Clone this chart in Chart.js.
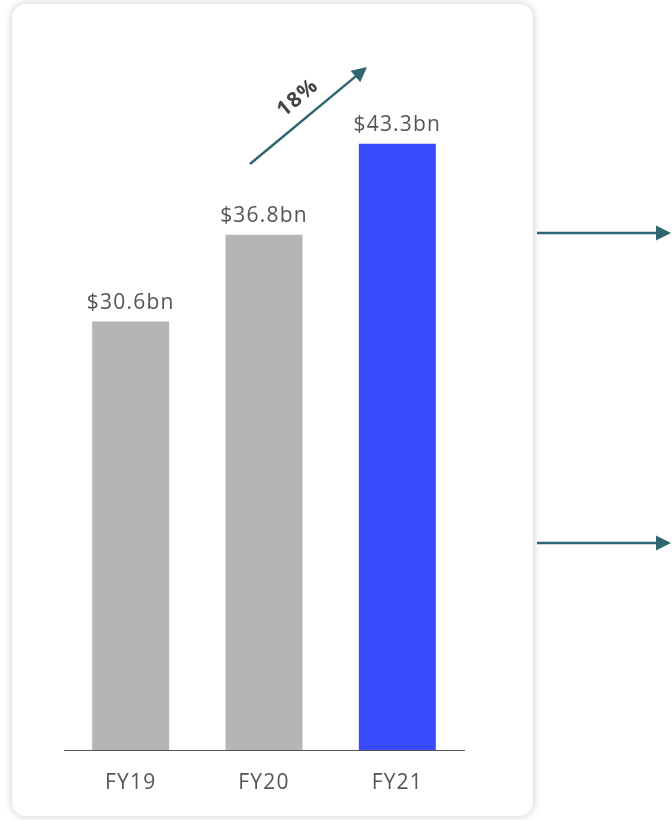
<!DOCTYPE html>
<html>
<head>
<meta charset="utf-8">
<script src="https://cdn.jsdelivr.net/npm/chart.js@4"></script>
<style>
  html, body { margin: 0; padding: 0; background: #fff; }
  body { width: 672px; height: 820px; position: relative; overflow: hidden; }
  .card {
    position: absolute; left: 12px; top: 4px; width: 521px; height: 812px;
    background: #fff; border-radius: 14px;
    box-shadow: 0 0 9px rgba(0, 0, 0, 0.22);
  }
  #wrap { position: absolute; left: 0; top: 0; width: 672px; height: 820px; }
</style>
</head>
<body>
<div class="card"></div>
<div id="wrap"><canvas id="revenueChart"></canvas></div>
<script>
const years = ['FY19', 'FY20', 'FY21'];
const revenue = [30.6, 36.8, 43.3];
const valueLabels = ['$30.6bn', '$36.8bn', '$43.3bn'];
const growthLabel = '18%';

const FONT = '"Open Sans", "Lato", sans-serif';
const TEXT = '#555';
const TEAL = '#2f6670';

function arrow(ctx, x1, y1, x2, y2, head) {
    const ang = Math.atan2(y2 - y1, x2 - x1);
    ctx.beginPath();
    ctx.moveTo(x1, y1);
    ctx.lineTo(x2 - Math.cos(ang) * head * 0.8, y2 - Math.sin(ang) * head * 0.8);
    ctx.stroke();
    ctx.save();
    ctx.translate(x2, y2);
    ctx.rotate(ang);
    ctx.beginPath();
    ctx.moveTo(0, 0);
    ctx.lineTo(-head, -head * 0.5);
    ctx.lineTo(-head, head * 0.5);
    ctx.closePath();
    ctx.fill();
    ctx.restore();
}

// wider letters, closer to the geometric font of the original
const spacing = {
    id: 'spacing',
    beforeDraw(chart) { chart.ctx.letterSpacing = '1.2px'; }
};

const decorations = {
    id: 'decorations',
    afterDatasetsDraw(chart) {
        const ctx = chart.ctx;
        const meta = chart.getDatasetMeta(0);
        ctx.save();
        ctx.fillStyle = TEXT;
        ctx.font = '21px ' + FONT;
        ctx.textAlign = 'center';
        ctx.textBaseline = 'bottom';
        meta.data.forEach((bar, i) => {
            ctx.fillText(valueLabels[i], bar.x, bar.y - 8);
        });

        ctx.strokeStyle = TEAL;
        ctx.fillStyle = TEAL;
        ctx.lineWidth = 2.5;
        arrow(ctx, 250, 164, 367, 67, 15);
        arrow(ctx, 537, 233, 671, 233, 15);
        arrow(ctx, 537, 543, 671, 543, 15);

        ctx.save();
        ctx.translate(298, 98);
        ctx.rotate(-40 * Math.PI / 180);
        ctx.fillStyle = '#444';
        ctx.font = 'bold 21px ' + FONT;
        ctx.textAlign = 'center';
        ctx.textBaseline = 'middle';
        ctx.fillText(growthLabel, 0, 0);
        ctx.restore();
        ctx.restore();
    }
};

new Chart(document.getElementById('revenueChart'), {
    type: 'bar',
    data: {
        labels: years,
        datasets: [{
            data: revenue,
            backgroundColor: ['#b5b5b5', '#b5b5b5', '#3a4bfc'],
            barPercentage: 0.77,
            categoryPercentage: 0.75
        }]
    },
    options: {
        responsive: true,
        maintainAspectRatio: false,
        animation: false,
        layout: { padding: { left: 64, right: 208, top: 50, bottom: 0 } },
        plugins: { legend: { display: false }, tooltip: { enabled: false } },
        scales: {
            y: { display: false, min: 0, max: 50 },
            x: {
                grid: { display: false, drawTicks: false },
                border: { display: true, color: '#555', width: 1 },
                ticks: {
                    color: TEXT,
                    font: { family: FONT, size: 21 },
                    padding: 20
                },
                afterFit(scale) { scale.height = 70; }
            }
        }
    },
    plugins: [spacing, decorations]
});
</script>
</body>
</html>
